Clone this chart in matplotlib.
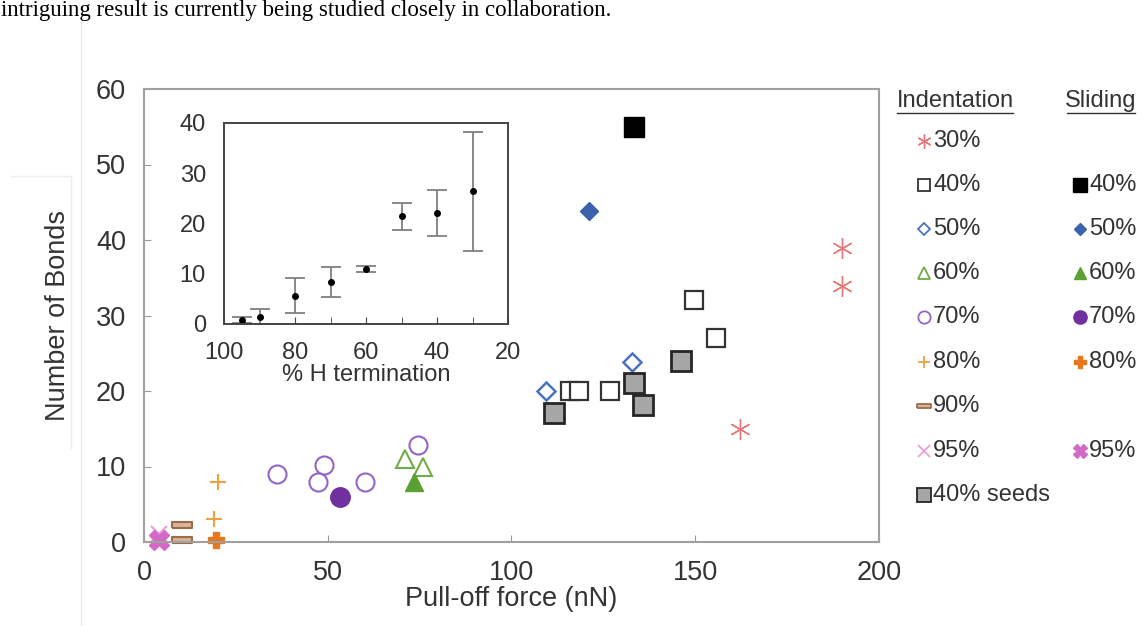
import matplotlib.pyplot as plt
import numpy as np
from matplotlib.lines import Line2D

plt.rcParams['font.family'] = ['Liberation Sans', 'DejaVu Sans']

# main panel data: pull-off force (nN) vs number of bonds
ind30_x = [190, 190, 162.3]
ind30_y = [38.9, 33.9, 15.0]
ind40_x = [115.8, 118.5, 126.8, 149.6, 155.6]
ind40_y = [20.0, 20.0, 20.0, 32.0, 27.0]
sld40_x = [133.2]
sld40_y = [55.0]
ind50_x = [109.4, 132.8]
ind50_y = [20.0, 23.9]
sld50_x = [121.1]
sld50_y = [43.9]
ind60_x = [71.0, 75.9]
ind60_y = [11.0, 9.9]
sld60_x = [73.5]
sld60_y = [7.9]
ind70_x = [36.2, 49.0, 47.4, 60.0, 74.6]
ind70_y = [9.0, 10.2, 8.0, 8.0, 12.9]
sld70_x = [53.3]
sld70_y = [6.0]
ind80_x = [20.1, 19.1]
ind80_y = [8.0, 3.0]
sld80_x = [19.7]
sld80_y = [0.2]
ind90_x = [10.3, 10.4]
ind90_y = [2.2, 0.2]
ind95_x = [4.2]
ind95_y = [1.0]
sld95_x = [4.1]
sld95_y = [0.3]
seeds_x = [111.6, 133.4, 135.7, 146.1]
seeds_y = [17.1, 21.0, 18.1, 24.0]

# inset data: % H termination vs mean number of bonds
h_term = [95, 90, 80, 70, 60, 50, 40, 30]
h_mean = [0.8, 1.4, 5.6, 8.3, 10.9, 21.4, 22.1, 26.4]
h_err = [0.6, 1.5, 3.5, 3.0, 0.65, 2.7, 4.6, 11.8]

text_c = '#333333'
dash = [(-1, -0.3), (1, -0.3), (1, 0.3), (-1, 0.3), (-1, -0.3)]

# (legend column, label, x, y, style)
series = [
    ('ind', '30%', ind30_x, ind30_y, dict(marker=(6, 2, 0), ms=15, mec='#e67a7a', mew=1.0)),
    ('ind', '40%', ind40_x, ind40_y, dict(marker='s', ms=13.5, mfc='white', mec='#333333', mew=1.6)),
    ('sld', '40%', sld40_x, sld40_y, dict(marker='s', ms=14, mfc='black', mec='black', mew=1)),
    ('ind', '50%', ind50_x, ind50_y, dict(marker='D', ms=9.3, mfc='white', mec='#4a72c0', mew=1.8)),
    ('sld', '50%', sld50_x, sld50_y, dict(marker='D', ms=9.5, mfc='#3a62ad', mec='#3a62ad', mew=1)),
    ('ind', '60%', ind60_x, ind60_y, dict(marker='^', ms=13, mfc='white', mec='#70ad47', mew=1.5)),
    ('sld', '60%', sld60_x, sld60_y, dict(marker='^', ms=13, mfc='#5aa032', mec='#5aa032', mew=1)),
    ('ind', '70%', ind70_x, ind70_y, dict(marker='o', ms=13, mfc='white', mec='#9366c4', mew=1.5)),
    ('sld', '70%', sld70_x, sld70_y, dict(marker='o', ms=14, mfc='#7030a0', mec='#7030a0', mew=1)),
    ('ind', '80%', ind80_x, ind80_y, dict(marker='+', ms=12, mec='#f0a040', mew=1.5)),
    ('sld', '80%', sld80_x, sld80_y, dict(marker='P', ms=12, mfc='#e8781e', mec='#e8781e', mew=1)),
    ('ind', '90%', ind90_x, ind90_y, dict(marker=dash, ms=14, mfc='#d8b49a', mec='#9c6b4a', mew=1.5)),
    ('ind', '95%', ind95_x, ind95_y, dict(marker='x', ms=12, mec='#e8a0d8', mew=1.5)),
    ('sld', '95%', sld95_x, sld95_y, dict(marker='X', ms=14, mfc='#d46ac6', mec='#d46ac6', mew=1)),
    ('ind', '40% seeds', seeds_x, seeds_y, dict(marker='s', ms=14, mfc='#a6a6a6', mec='#262626', mew=2)),
]

fig = plt.figure(figsize=(11.42, 6.26), dpi=100)

# page bits around the figure
fig.text(1 / 1142, 1 - 16 / 626, 'intriguing result is currently being studied closely in collaboration.',
         family='Liberation Serif', fontsize=16.5, va='baseline', ha='left', color='black')
fig.add_artist(Line2D([81 / 1142, 81 / 1142], [0, 1 - 22 / 626], transform=fig.transFigure, color='#e6e6e6', lw=1))
fig.add_artist(Line2D([11 / 1142, 71 / 1142, 71 / 1142], [1 - 176 / 626, 1 - 176 / 626, 1 - 448 / 626],
                      transform=fig.transFigure, color='#eeeeee', lw=1))

ax = fig.add_axes([144 / 1142, 1 - 542 / 626, (879 - 144) / 1142, (542 - 89) / 626])
for col, lab, xs, ys, st in series:
    ax.plot(xs, ys, ls='none', clip_on=False, **st)

ax.set_xlim(0, 200)
ax.set_ylim(0, 60)
ax.set_xticks([0, 50, 100, 150, 200])
ax.set_yticks([0, 10, 20, 30, 40, 50, 60])
ax.tick_params(direction='in', length=5, color='#999999', labelsize=19.5, labelcolor=text_c, pad=13)
for s in ax.spines.values():
    s.set_color('#a0a0a0')
    s.set_linewidth(1.5)
ax.set_xlabel('Pull-off force (nN)', fontsize=19.5, color=text_c, labelpad=0)
ax.set_ylabel('Number of Bonds', fontsize=19.5, color=text_c, labelpad=18)

# inset
ins = fig.add_axes([224 / 1142, 1 - 324 / 626, (508 - 224) / 1142, (324 - 123) / 626])
ins.errorbar(h_term, h_mean, yerr=h_err, fmt='o', ms=4, color='black', ecolor='#808080',
             elinewidth=1.3, capsize=7, capthick=1.3)
ins.set_xlim(100, 20)
ins.set_ylim(0, 40)
ins.set_xticks([100, 80, 60, 40, 20])
ins.set_xticks([90, 70, 50, 30], minor=True)
ins.set_yticks([0, 10, 20, 30, 40])
ins.tick_params(axis='x', which='both', direction='in', length=5, color='#444444')
ins.tick_params(axis='y', length=0)
ins.tick_params(labelsize=17, labelcolor=text_c, pad=13)
for s in ins.spines.values():
    s.set_color('#444444')
    s.set_linewidth(1.4)
ins.set_xlabel('% H termination', fontsize=17, color=text_c, labelpad=0)

# legend drawn by hand in pixel coordinates
lg = fig.add_axes([880 / 1142, 0, 262 / 1142, 1])
lg.set_xlim(880, 1142)
lg.set_ylim(626, 0)
lg.axis('off')
lg.text(955, 101, 'Indentation', fontsize=17, color=text_c, ha='center', va='center')
lg.text(1101, 101, 'Sliding', fontsize=17, color=text_c, ha='center', va='center')
lg.plot([897, 1013], [113, 113], color=text_c, lw=1)
lg.plot([1067, 1135], [113, 113], color=text_c, lw=1)

rows = ['30%', '40%', '50%', '60%', '70%', '80%', '90%', '95%', '40% seeds']
row_y = [141, 185, 229, 273, 317, 362, 406, 451, 495]
for col, lab, xs, ys, st in series:
    y = row_y[rows.index(lab)]
    mx, tx = (924, 933) if col == 'ind' else (1080, 1089)
    small = dict(st)
    small['ms'] = st['ms'] * 0.68
    small['mew'] = min(st['mew'], 1.3)
    lg.plot([mx], [y], ls='none', **small)
    lg.text(tx, y, lab, fontsize=17, color=text_c, ha='left', va='center')

fig.savefig('out.png', dpi=100)
